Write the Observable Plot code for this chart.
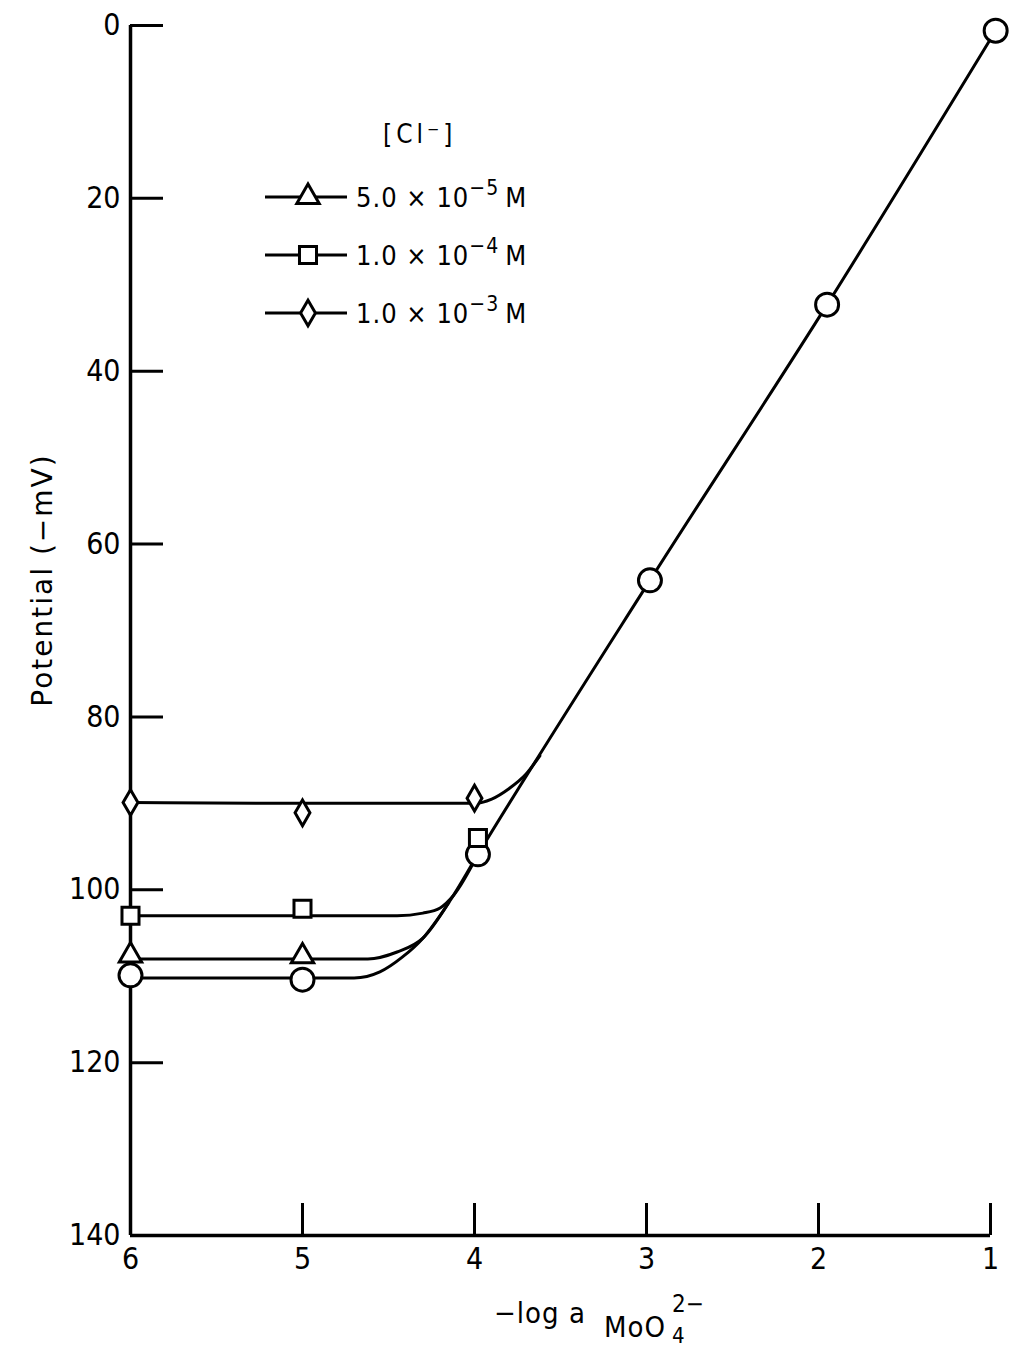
<!DOCTYPE html>
<html>
<head>
<meta charset="utf-8">
<script src="https://cdn.jsdelivr.net/npm/d3@7"></script>
<script src="https://cdn.jsdelivr.net/npm/@observablehq/plot@0.6"></script>
<style>
  html, body { margin: 0; padding: 0; background: white; }
  svg { display: block; }
</style>
</head>
<body>
<div id="chart"></div>
<script>
// ---- tick labels ----
const xTicks = [6, 5, 4, 3, 2, 1];
const yTicks = [0, 20, 40, 60, 80, 100, 120, 140];

// ---- measured points (markers) ----
const circleX = [6, 5, 3.98, 2.98, 1.95, 0.97];
const circleY = [109.9, 110.4, 95.9, 64.2, 32.3, 0.6];
const triangleX = [6, 5];
const triangleY = [107.6, 107.7];
const squareX = [6, 5, 3.98];
const squareY = [103.0, 102.2, 94.0];
const diamondX = [6, 5, 4.0];
const diamondY = [89.9, 91.1, 89.4];

// ---- hand-drawn fitted curves ----
const mainCurveX = [6, 5, 4.7, 4.55, 4.42, 4.3, 4.15, 3.98, 2.98, 1.95, 0.97];
const mainCurveY = [110.2, 110.2, 110.2, 109.5, 107.8, 105.6, 101.5, 95.9, 64.2, 32.3, 0.6];
const triCurveX = [6, 5, 4.62, 4.45, 4.3, 4.15];
const triCurveY = [108.0, 108.0, 108.0, 107.2, 105.6, 101.5];
const sqCurveX = [6, 5, 4.45, 4.3, 4.2, 4.12, 3.98];
const sqCurveY = [103.0, 103.0, 103.0, 102.7, 102.1, 100.6, 95.9];
const diaCurveX = [6, 5, 4.0, 3.9, 3.8, 3.7, 3.62];
const diaCurveY = [89.9, 90.0, 90.0, 89.5, 88.3, 86.6, 84.5];

// ---- legend ----
const legendTitle = "[Cl⁻]";
const legendSymbols = ["triangle", "square", "diamond"];
const legendMantissa = ["5.0", "1.0", "1.0"];
const legendExponent = ["−5", "−4", "−3"];

const pts = (xs, ys) => xs.map((x, i) => ({x, y: ys[i]}));

const font = "'DejaVu Sans Condensed', 'DejaVu Sans', sans-serif";
const font2 = "'DejaVu Sans', sans-serif";
const lineStyle = {x: "x", y: "y", curve: "monotone-x", stroke: "black", strokeWidth: 3};
const dotStyle = {x: "x", y: "y", fill: "white", stroke: "black", strokeWidth: 3};

const chart = Plot.plot({
  width: 1024,
  height: 1370,
  marginLeft: 130,
  marginRight: 34,
  marginTop: 25,
  marginBottom: 135,
  style: {fontFamily: font, background: "white", color: "black", fontSize: "30px"},
  x: {domain: [6, 1]},
  y: {domain: [0, 140], reverse: true},
  marks: [
    Plot.ruleX([6], {y1: 0, y2: 140, stroke: "black", strokeWidth: 3.5}),
    Plot.ruleY([140], {x1: 6, x2: 1, stroke: "black", strokeWidth: 3.5}),
    Plot.ruleY(yTicks, {y: d => d, x1: 6, x2: 6 - 33 / 172, stroke: "black", strokeWidth: 3}),
    Plot.ruleX(xTicks, {x: d => d, y1: 140, y2: 140 - 32 / 8.64, stroke: "black", strokeWidth: 3}),
    Plot.axisX({ticks: xTicks, tickSize: 0, tickPadding: 12, fontSize: 30, label: null, tickFormat: d => String(d)}),
    Plot.axisY({ticks: yTicks, tickSize: 0, tickPadding: 10, fontSize: 30, label: null, tickFormat: d => String(d)}),
    Plot.line(pts(mainCurveX, mainCurveY), lineStyle),
    Plot.line(pts(triCurveX, triCurveY), lineStyle),
    Plot.line(pts(sqCurveX, sqCurveY), lineStyle),
    Plot.line(pts(diaCurveX, diaCurveY), lineStyle),
    Plot.dot(pts(circleX, circleY), {...dotStyle, symbol: "circle", r: 11.5}),
    Plot.dot(pts(triangleX, triangleY), {...dotStyle, symbol: "triangle", r: 8.3}),
    Plot.dot(pts(squareX, squareY), {...dotStyle, symbol: "square", r: 9.6}),
    Plot.dot(pts(diamondX, diamondY), {...dotStyle, symbol: "diamond", r: 7.8})
  ]
});
document.getElementById("chart").appendChild(chart);

const svg = d3.select(chart);

// y axis title
svg.append("text")
  .attr("transform", "translate(52,580) rotate(-90)")
  .attr("text-anchor", "middle")
  .attr("font-family", font2)
  .attr("font-size", 28)
  .attr("letter-spacing", 2)
  .attr("fill", "black")
  .text("Potential (−mV)");

// x axis title
const xt = svg.append("g").attr("font-family", font).attr("fill", "black").attr("text-anchor", "start");
xt.append("text").attr("x", 494).attr("y", 1323).attr("font-size", 29).attr("letter-spacing", 1).text("−log a");
xt.append("text").attr("x", 604).attr("y", 1337).attr("font-size", 29).attr("letter-spacing", 1).text("MoO");
xt.append("text").attr("x", 672).attr("y", 1343).attr("font-size", 22).text("4");
xt.append("text").attr("x", 672).attr("y", 1312).attr("font-size", 24).text("2−");

// legend
const lg = svg.append("g").attr("font-family", font).attr("fill", "black").attr("text-anchor", "start");
lg.append("text").attr("x", 383).attr("y", 143).attr("font-size", 26).attr("letter-spacing", 4).text(legendTitle);
const symMap = {triangle: d3.symbolTriangle, square: d3.symbolSquare, diamond: d3.symbolDiamond};
const symSize = {triangle: Math.PI * 8.3 * 8.3, square: Math.PI * 9.6 * 9.6, diamond: Math.PI * 7.8 * 7.8};
legendSymbols.forEach((s, i) => {
  const yy = 197 + i * 58;
  lg.append("line").attr("x1", 265).attr("x2", 347).attr("y1", yy).attr("y2", yy)
    .attr("stroke", "black").attr("stroke-width", 3);
  lg.append("path").attr("d", d3.symbol(symMap[s], symSize[s])())
    .attr("transform", `translate(308,${yy})`)
    .attr("fill", "white").attr("stroke", "black").attr("stroke-width", 3);
  const t = lg.append("text").attr("x", 356).attr("y", yy + 10).attr("font-size", 27).attr("letter-spacing", 1);
  t.append("tspan").text(legendMantissa[i] + " × 10");
  t.append("tspan").attr("dy", -12).attr("font-size", 21).text(legendExponent[i]);
  t.append("tspan").attr("dy", 12).attr("dx", 6).text("M");
});
</script>
</body>
</html>
